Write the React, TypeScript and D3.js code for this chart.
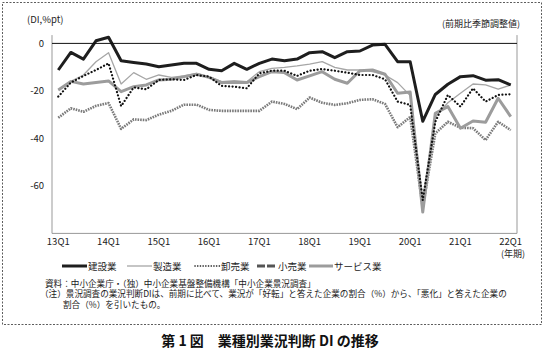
import { useEffect, useRef } from "react";
import * as d3 from "d3";

const quarters = [
  "13Q1", "13Q2", "13Q3", "13Q4", "14Q1", "14Q2", "14Q3", "14Q4",
  "15Q1", "15Q2", "15Q3", "15Q4", "16Q1", "16Q2", "16Q3", "16Q4",
  "17Q1", "17Q2", "17Q3", "17Q4", "18Q1", "18Q2", "18Q3", "18Q4",
  "19Q1", "19Q2", "19Q3", "19Q4", "20Q1", "20Q2", "20Q3", "20Q4",
  "21Q1", "21Q2", "21Q3", "21Q4", "22Q1",
];

// 建設業
const construction = [
  -11.2, -3.8, -6.6, 1.1, 2.6, -7.3, -8.0, -8.7, -9.8, -9.1, -8.4, -8.4,
  -10.9, -11.5, -8.4, -10.9, -8.4, -6.6, -7.3, -6.6, -3.9, -3.5, -6.0, -3.5,
  -3.2, -0.7, -0.4, -7.7, -7.7, -32.8, -21.5, -17.2, -14.0, -13.6, -15.5, -15.3,
  -17.5,
];
// 製造業
const manufacturing = [
  -19.6, -16.0, -13.3, -7.7, -3.9, -17.1, -12.3, -15.1, -13.3, -14.3, -13.7, -12.6,
  -14.0, -16.1, -15.7, -16.1, -11.9, -10.5, -10.1, -9.5, -8.7, -7.7, -10.1, -11.2,
  -11.2, -11.9, -13.3, -16.5, -22.0, -65.0, -31.0, -25.0, -21.0, -17.1, -17.5, -19.3,
  -17.5,
];
// 卸売業
const wholesale = [
  -22.4, -16.5, -13.7, -11.2, -8.4, -26.4, -18.5, -19.3, -15.4, -15.1, -15.4, -13.3,
  -14.0, -17.9, -18.2, -18.9, -12.6, -11.5, -11.5, -13.7, -11.5, -10.8, -11.5, -12.3,
  -13.3, -13.3, -15.1, -24.5, -25.9, -66.0, -33.0, -21.7, -26.6, -18.9, -24.5, -21.7,
  -21.4,
];
// 小売業
const retail = [
  -31.3, -27.3, -28.8, -26.3, -25.1, -36.0, -32.0, -32.3, -30.0, -28.4, -25.8, -25.8,
  -28.0, -28.4, -28.4, -28.4, -28.4, -24.5, -25.5, -27.7, -22.8, -25.0, -25.9, -25.2,
  -23.8, -23.5, -25.5, -35.3, -31.0, -69.0, -37.9, -33.0, -35.5, -35.7, -40.7, -33.0,
  -36.5,
];
// サービス業
const services = [
  -19.6, -16.0, -17.1, -16.5, -15.8, -20.3, -18.2, -17.5, -15.4, -15.1, -14.0, -13.0,
  -14.3, -16.5, -16.5, -16.5, -14.0, -11.9, -12.3, -15.4, -13.7, -11.9, -15.1, -16.8,
  -11.5, -11.2, -13.0, -21.0, -20.5, -71.0, -29.4, -26.6, -35.7, -32.7, -33.2, -23.1,
  -30.8,
];

const yTicks = [0, -20, -40, -60];
const xTickLabels = ["13Q1", "14Q1", "15Q1", "16Q1", "17Q1", "18Q1", "19Q1", "20Q1", "21Q1", "22Q1"];

const seriesNames = ["建設業", "製造業", "卸売業", "小売業", "サービス業"];
const seriesValues = [construction, manufacturing, wholesale, retail, services];

const styles = [
  { stroke: "#1e1e1e", width: 3, dash: null, cap: "butt" },
  { stroke: "#a6a6a6", width: 1.3, dash: null, cap: "butt" },
  { stroke: "#111111", width: 2.2, dash: "0.1,3.4", cap: "round" },
  { stroke: "#7a7a7a", width: 2.6, dash: "1.6,1", cap: "butt" },
  { stroke: "#9c9c9c", width: 3, dash: null, cap: "butt" },
];

const FONT = "'Noto Sans CJK JP', 'Noto Sans', sans-serif";

export default function App() {
  const ref = useRef(null);

  useEffect(() => {
    const svg = d3.select(ref.current);
    svg.selectAll("*").remove();

    const left = 52;
    const right = 517;
    const x = d3.scalePoint().domain(quarters).range([left, right]).padding(0.5);
    const y = d3.scaleLinear().domain([-80, 0]).range([233.4, 43.4]);

    // dashed frame
    svg
      .append("rect")
      .attr("x", 2.5)
      .attr("y", 2.5)
      .attr("width", 539)
      .attr("height", 322)
      .attr("fill", "none")
      .attr("stroke", "#333")
      .attr("stroke-width", 0.8)
      .attr("stroke-dasharray", "2,1.5");

    // plot borders
    const g = svg.append("g");
    g.append("line")
      .attr("x1", left).attr("x2", left)
      .attr("y1", y(3.5)).attr("y2", y(-80))
      .attr("stroke", "#999").attr("stroke-width", 1);
    g.append("line")
      .attr("x1", right).attr("x2", right)
      .attr("y1", y(3.5)).attr("y2", y(-80))
      .attr("stroke", "#999").attr("stroke-width", 1);
    g.append("line")
      .attr("x1", left).attr("x2", right)
      .attr("y1", y(-80)).attr("y2", y(-80))
      .attr("stroke", "#999").attr("stroke-width", 1);

    // y tick labels
    g.selectAll(".ytick")
      .data(yTicks)
      .join("text")
      .attr("x", 44)
      .attr("y", (d) => y(d) + 3.5)
      .attr("text-anchor", "end")
      .attr("font-size", 9.5)
      .attr("font-family", FONT)
      .attr("fill", "#222")
      .text((d) => (d === 0 ? "0" : "-" + Math.abs(d)));

    // x tick labels
    g.selectAll(".xtick")
      .data(xTickLabels)
      .join("text")
      .attr("x", (d) => x(d))
      .attr("y", 245)
      .attr("text-anchor", "middle")
      .attr("font-size", 9.5)
      .attr("font-family", FONT)
      .attr("fill", "#222")
      .text((d) => d);

    svg.append("text")
      .attr("x", 513).attr("y", 257)
      .attr("text-anchor", "middle")
      .attr("font-size", 9).attr("font-family", FONT).attr("fill", "#222")
      .text("(年期)");

    svg.append("text")
      .attr("x", 27).attr("y", 23)
      .attr("font-size", 9.5).attr("font-family", FONT).attr("fill", "#222")
      .text("(DI,%pt)");

    svg.append("text")
      .attr("x", 520).attr("y", 27)
      .attr("text-anchor", "end")
      .attr("font-size", 9).attr("font-family", FONT).attr("fill", "#222")
      .text("(前期比季節調整値)");

    const line = d3
      .line<number>()
      .x((_, i) => x(quarters[i]))
      .y((d) => y(d));

    // draw in back-to-front order
    const order = [3, 1, 4, 2, 0];
    order.forEach((k) => {
      const s = styles[k];
      const p = g.append("path")
        .datum(seriesValues[k])
        .attr("fill", "none")
        .attr("stroke", s.stroke)
        .attr("stroke-width", s.width)
        .attr("stroke-linecap", s.cap)
        .attr("stroke-linejoin", "round")
        .attr("d", line);
      if (s.dash) p.attr("stroke-dasharray", s.dash);
    });

    // zero line
    g.append("line")
      .attr("x1", left).attr("x2", right)
      .attr("y1", y(0)).attr("y2", y(0))
      .attr("stroke", "#111").attr("stroke-width", 1);

    // legend
    const legendX = [62, 127, 195, 257, 309];
    const legendLen = [25, 25, 25, 18, 24];
    const legend = svg.append("g").attr("transform", "translate(0,266)");
    seriesNames.forEach((name, k) => {
      const s = styles[k];
      const lx = legendX[k];
      const len = legendLen[k];
      const l = legend.append("line")
        .attr("x1", lx).attr("x2", lx + len)
        .attr("y1", 0).attr("y2", 0)
        .attr("stroke", k === 3 ? "#555" : s.stroke)
        .attr("stroke-width", k === 1 ? 1.3 : k === 2 ? 1.6 : 3)
        .attr("stroke-linecap", s.cap);
      if (k === 2) l.attr("stroke-dasharray", "0.1,2.6");
      if (k === 3) l.attr("stroke-dasharray", "8,2");
      legend.append("text")
        .attr("x", lx + len + (k === 3 ? 3 : 1)).attr("y", 3.5)
        .attr("font-size", 9.5).attr("font-family", FONT).attr("fill", "#222")
        .text(name);
    });

    // notes
    const notes = [
      { x: 45, y: 286.5, t: "資料：中小企業庁・（独）中小企業基盤整備機構「中小企業景況調査」" },
      { x: 40, y: 297, t: "（注）景況調査の業況判断DIは、前期に比べて、業況が「好転」と答えた企業の割合（%）から、「悪化」と答えた企業の" },
      { x: 63, y: 308, t: "割合（%）を引いたもの。" },
    ];
    svg.selectAll(".note")
      .data(notes)
      .join("text")
      .attr("x", (d) => d.x)
      .attr("y", (d) => d.y)
      .attr("font-size", 8.6)
      .attr("font-family", FONT)
      .attr("fill", "#222")
      .text((d) => d.t);

    svg.append("text")
      .attr("x", 270).attr("y", 346)
      .attr("text-anchor", "middle")
      .attr("font-size", 14)
      .attr("font-weight", "bold")
      .attr("font-family", FONT)
      .attr("fill", "#111")
      .attr("xml:space", "preserve")
      .text("第 1 図　業種別業況判断 DI の推移");
  }, []);

  return (
    <svg
      ref={ref}
      width={546}
      height={361}
      style={{ position: "absolute", left: 0, top: 0, background: "#fff" }}
    />
  );
}
